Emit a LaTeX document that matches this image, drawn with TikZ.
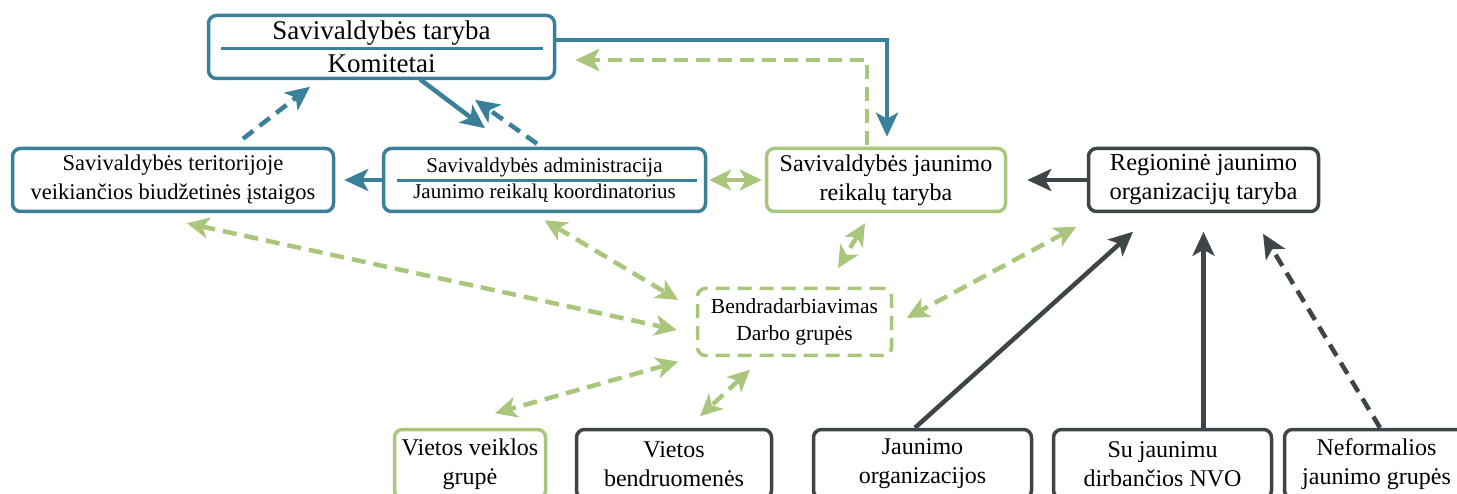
\documentclass[tikz,border=0pt]{standalone}
\usepackage{fontspec}
\setmainfont{Liberation Serif}
\usetikzlibrary{arrows.meta}
\definecolor{cblue}{RGB}{59,128,155}
\definecolor{cgreen}{RGB}{168,199,123}
\definecolor{cdark}{RGB}{61,69,72}
\begin{document}
\begin{tikzpicture}[x=1pt,y=-1pt,
  box/.style={draw, rounded corners=8pt, line width=3.5pt, align=center, inner sep=0pt, text=black, fill=white},
  bluebox/.style={box, draw=cblue},
  greenbox/.style={box, draw=cgreen},
  darkbox/.style={box, draw=cdark},
  fbig/.style={font=\rmfamily\fontsize{24}{29}\selectfont},
  conn/.style={line width=4.5pt},
  bluearr/.style={conn, draw=cblue, -{Stealth[length=24pt,width=22pt,inset=6pt,color=cblue]}},
  bluedash/.style={bluearr, dash pattern=on 13pt off 8pt},
  darkarr/.style={conn, draw=cdark, -{Stealth[length=24pt,width=22pt,inset=6pt,color=cdark]}},
  darkdash/.style={darkarr, dash pattern=on 13pt off 8pt},
  greendash/.style={conn, draw=cgreen, dash pattern=on 14pt off 8pt, -{Stealth[length=24pt,width=22pt,inset=6pt,color=cgreen]}},
  greendbl/.style={conn, draw=cgreen, dash pattern=on 14pt off 8pt, {Stealth[length=22pt,width=21pt,inset=6pt,color=cgreen]}-{Stealth[length=22pt,width=21pt,inset=6pt,color=cgreen]}},
  greensolid/.style={conn, draw=cgreen, {Stealth[length=22pt,width=21pt,inset=6pt,color=cgreen]}-{Stealth[length=22pt,width=21pt,inset=6pt,color=cgreen]}}
]
\clip (0,0) rectangle (1457,494);
\fill[white] (0,0) rectangle (1457,494);

% nodes
\node[bluebox, minimum width=346pt, minimum height=63pt, font=\rmfamily\fontsize{27}{33}\selectfont] (top) at (381.5,47) {Savivaldybės taryba\\Komitetai};
\node[bluebox, minimum width=321pt, minimum height=63pt, font=\rmfamily\fontsize{22.5}{29}\selectfont] (terr) at (173,180) {Savivaldybės teritorijoje\\veikiančios biudžetinės įstaigos};
\node[bluebox, minimum width=322pt, minimum height=63pt, font=\rmfamily\fontsize{21}{26}\selectfont] (admin) at (544.5,180) {Savivaldybės administracija\\Jaunimo reikalų koordinatorius};
\node[greenbox, minimum width=239pt, minimum height=63pt, fbig] (jrt) at (886,180) {Savivaldybės jaunimo\\reikalų taryba};
\node[darkbox, minimum width=230pt, minimum height=63pt, font=\rmfamily\fontsize{24.5}{29}\selectfont] (reg) at (1203.5,180) {Regioninė jaunimo\\organizacijų taryba};
\node[greenbox, dash pattern=on 14pt off 8pt, minimum width=194pt, minimum height=67pt, font=\rmfamily\fontsize{21.5}{27}\selectfont] (bendr) at (794.5,322) {Bendradarbiavimas\\Darbo grupės};
\node[greenbox, minimum width=151pt, minimum height=69pt, fbig] (vvg) at (470,464) {Vietos veiklos\\grupė};
\node[darkbox, minimum width=195pt, minimum height=69pt, fbig] (vb) at (674,464) {Vietos\\bendruomenės};
\node[darkbox, minimum width=218pt, minimum height=69pt, fbig] (jo) at (922.5,464) {Jaunimo\\organizacijos};
\node[darkbox, minimum width=218pt, minimum height=69pt, fbig] (nvo) at (1162.5,464) {Su jaunimu\\dirbančios NVO};
\node[darkbox, minimum width=184pt, minimum height=69pt, fbig] (nef) at (1376.5,464) {Neformalios\\jaunimo grupės};

% separator lines
\draw[cblue, line width=3.5pt] ([xshift=-161pt,yshift=-1.5pt]top.center) -- ([xshift=161pt,yshift=-1.5pt]top.center);
\draw[cblue, line width=3pt] ([xshift=-148pt,yshift=-1pt]admin.center) -- ([xshift=152pt,yshift=-1pt]admin.center);

% blue connectors
\draw[bluearr] ([yshift=7pt]top.east) -| ([xshift=1pt,yshift=10pt]jrt.north);
\draw[greendash] ([xshift=-19pt,yshift=2pt]jrt.north) |- ([xshift=19pt,yshift=-13pt]top.east);
\draw[bluedash] ([xshift=70pt,yshift=8pt]terr.north) -- ([xshift=-71.5pt,yshift=-6.5pt]top.south);
\draw[bluearr] ([xshift=38.5pt,yshift=1pt]top.south) -- ([xshift=-59.5pt,yshift=18.5pt]admin.north);
\draw[bluedash] ([xshift=-7.5pt,yshift=3pt]admin.north) -- ([xshift=93.5pt,yshift=-19.5pt]top.south);
\draw[bluearr] (admin.west) -- ([xshift=9pt]terr.east);

% green connectors
\draw[greensolid] ([xshift=2pt]admin.east) -- ([xshift=-3pt]jrt.west);
\draw[greendbl] ([xshift=14pt,yshift=-10pt]terr.south) -- ([xshift=-19pt,yshift=-8pt]bendr.west);
\draw[greendbl] ([yshift=-7pt]admin.south) -- ([xshift=-17.5pt,yshift=22pt]bendr.west);
\draw[greendbl] ([xshift=-21pt,yshift=-10pt]jrt.south) -- ([xshift=43.5pt,yshift=18.5pt]bendr.north);
\draw[greendbl] ([xshift=-10.5pt,yshift=-13.5pt]reg.south west) -- ([xshift=13.5pt,yshift=4pt]bendr.east);
\draw[greendbl] ([xshift=-17.5pt,yshift=-4.5pt]bendr.south west) -- ([xshift=25pt,yshift=14.5pt]vvg.north);
\draw[greendbl] ([xshift=-44.5pt,yshift=-12.5pt]bendr.south) -- ([xshift=26pt,yshift=11.5pt]vb.north);

% dark connectors
\draw[darkarr] (reg.west) -- ([xshift=20pt]jrt.east);
\draw[darkarr] ([xshift=-7.5pt]jo.north) -- ([xshift=-70.5pt,yshift=-18.5pt]reg.south);
\draw[darkarr] ([xshift=41pt]nvo.north) -- ([yshift=-18.5pt]reg.south);
\draw[darkdash] ([xshift=3.5pt]nef.north) -- ([xshift=59.5pt,yshift=-20.5pt]reg.south);
\end{tikzpicture}
\end{document}
